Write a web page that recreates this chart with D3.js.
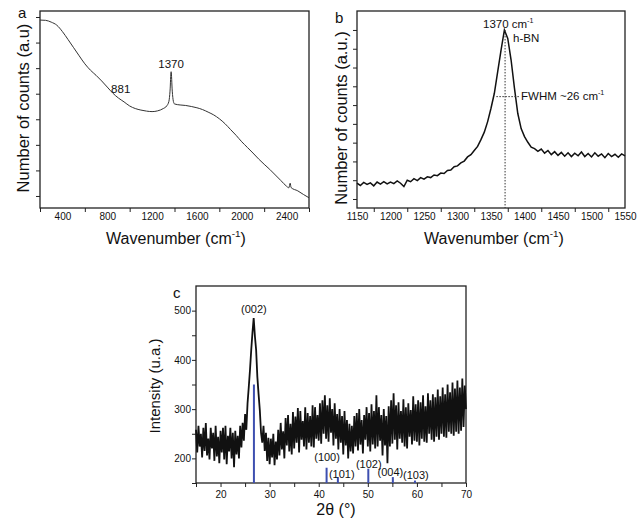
<!DOCTYPE html>
<html>
<head>
<meta charset="utf-8">
<title>h-BN Raman and XRD</title>
<script src="https://d3js.org/d3.v7.min.js"></script>
<style>
    body { margin: 0; background: #fff; }
    svg text { font-family: "Liberation Sans", Arial, sans-serif; fill: #111; }
</style>
</head>
<body>
<div id="chart"></div>
<script>
// panel a - wide raman scan
var aWave = [200,250,300,350,400,450,500,550,600,650,
             700,750,800,850,900,950,1000,1050,1100,1150,
             1200,1250,1300,1330,1350,1360,1370,1380,1390,1400,
             1450,1500,1550,1600,1650,1700,1750,1800,1850,1900,
             1950,2000,2050,2100,2150,2200,2250,2300,2350,2400,
             2420,2432,2440,2500,2550,2600];
var aCounts = [6.88,6.87,6.80,6.68,6.43,6.12,5.80,5.48,5.17,4.92,
               4.72,4.50,4.26,4.02,3.83,3.68,3.52,3.42,3.36,3.32,
               3.30,3.33,3.42,3.52,3.70,4.10,4.86,4.10,3.70,3.60,
               3.56,3.54,3.50,3.45,3.38,3.28,3.17,3.02,2.83,2.60,
               2.37,2.12,1.90,1.68,1.45,1.24,1.04,0.82,0.60,0.38,
               0.32,0.50,0.33,0.20,0.06,-0.07];
var aTickLabels = [400, 800, 1200, 1600, 2000, 2400];
var aTickMarks = [200, 600, 1000, 1400, 1800, 2200, 2600];
var aYTicks = [0, 1, 2, 3, 4, 5, 6, 7];

// panel b - zoom on the 1370 band, 5 cm-1 steps from 1150
var bStart = 1150, bStep = 5;
var bCounts = [0.84,0.72,0.88,0.78,0.86,0.70,0.90,0.79,0.92,0.80,   // 1150
               0.90,0.82,0.96,0.84,0.66,1.00,0.92,1.08,0.98,1.14,   // 1200
               1.06,1.18,1.14,1.28,1.24,1.38,1.36,1.52,1.54,1.72,   // 1250
               1.76,1.92,2.02,2.24,2.36,2.58,2.80,3.16,3.56,4.12,   // 1300
               4.83,5.63,6.78,7.93,9.00,8.55,7.40,5.90,4.55,3.75,   // 1350
               3.32,3.02,2.76,2.68,2.54,2.66,2.44,2.58,2.36,2.52,   // 1400
               2.32,2.48,2.28,2.46,2.26,2.44,2.30,2.50,2.26,2.42,   // 1450
               2.24,2.46,2.28,2.40,2.20,2.42,2.26,2.38,2.22,2.40,   // 1500
               2.30];                                               // 1550
var bTickLabels = [1150,1200,1250,1300,1350,1400,1450,1500,1550];
var bTickMarks = [1175,1225,1275,1325,1375,1425,1475,1525];
var bYTicks = [0,1,2,3,4,5,6,7,8,9];
var bPeak = 1371, bPeakTop = 9.0, bHalf = 5.45, bHalfFrom = 1358, bHalfTo = 1392;

// panel c - XRD, 0.25 deg steps from 15
var cStart = 15, cStep = 0.25;
var cIntensity = [
    258,212,266,224, 250,202,262,215, 272,206,240,198, 262,220,252,195,   // 15-18
    266,204,244,190, 256,212,262,198, 266,188,246,214, 262,200,252,182,   // 19-22
    256,208,246,200, 266,222,272,236, 290,258,312,345, 380,420,455,485,   // 23-26
    448,420,365,330, 298,252,232,266, 215,252,195,242, 188,240,202,250,   // 27-30
    186,234,198,258, 206,272,218,255, 200,282,226,288, 214,270,208,294,   // 31-34
    220,285,232,302, 212,296,238,276, 224,304,218,292, 232,286,224,308,   // 35-38
    222,304,240,288, 236,312,230,318, 250,328,240,308, 234,322,252,300,   // 39-42
    226,312,240,290, 218,300,232,286, 208,296,226,278, 200,270,214,266,   // 43-46
    210,286,224,292, 216,300,228,278, 210,288,238,304, 224,292,214,310,   // 47-50
    228,296,220,328, 224,304,236,288, 206,300,226,286, 190,306,224,318,   // 51-54
    230,332,238,308, 218,314,240,296, 232,320,224,304, 220,312,244,298,   // 55-58
    228,326,236,310, 234,318,226,314, 240,328,234,306, 232,332,250,318,   // 59-62
    238,330,234,324, 244,340,238,326, 250,344,244,330, 242,350,254,334,   // 63-66
    250,354,246,342, 254,358,250,344, 256,362,264,348, 300                // 67-70
];
var cStickPos = [26.8, 41.6, 43.9, 50.1, 55.1, 59.6];
var cStickInt = [350, 181, 162, 179, 162, 155];
var cStickLabels = ["(002)", "(100)", "(101)", "(102)", "(004)", "(103)"];
var cLabelX = [26.8, 41.7, 44.7, 50.2, 54.6, 59.8];
var cLabelY = [495, 195, 160, 180, 164, 158];
var cTickLabels = [20, 30, 40, 50, 60, 70];
var cTickMarks = [15,20,25,30,35,40,45,50,55,60,65,70];
var cYLabels = [200, 300, 400, 500];
var cYTicks = [150,200,250,300,350,400,450,500];

var svg = d3.select("#chart").append("svg")
    .attr("width", 638)
    .attr("height", 525);

var xa = d3.scaleLinear().domain([200, 2600]).range([40, 309]);
var ya = d3.scaleLinear().domain([-0.47, 7.235]).range([208, 11]);
var xb = d3.scaleLinear().domain([1150, 1550]).range([357, 625]);
var yb = d3.scaleLinear().domain([-0.48, 10.01]).range([208, 11]);
var xc = d3.scaleLinear().domain([15, 70]).range([196, 466]);
var yc = d3.scaleLinear().domain([150, 550]).range([483, 286]);

function axes(x, y, xMarks, xLabels, yMarks, yLabels, fs, xPad) {
    var bottom = y.range()[0], top = y.range()[1];
    var left = x.range()[0], right = x.range()[1];

    svg.append("g")
        .attr("transform", "translate(0," + bottom + ")")
        .attr("color", "#222")
        .call(d3.axisBottom(x).tickValues(xMarks).tickSize(4).tickFormat(""))
        .call(function(g) { g.select(".domain").remove(); });

    svg.append("g")
        .attr("transform", "translate(0," + bottom + ")")
        .attr("font-size", fs)
        .attr("font-family", null)
        .call(d3.axisBottom(x).tickValues(xLabels).tickSize(0).tickPadding(xPad).tickFormat(d3.format("d")))
        .call(function(g) { g.select(".domain").remove(); });

    svg.append("g")
        .attr("transform", "translate(" + left + ",0)")
        .attr("color", "#222")
        .call(d3.axisLeft(y).tickValues(yMarks).tickSize(4).tickFormat(""))
        .call(function(g) { g.select(".domain").remove(); });

    if (yLabels) {
        svg.append("g")
            .attr("transform", "translate(" + left + ",0)")
            .attr("font-size", fs)
            .attr("font-family", null)
            .call(d3.axisLeft(y).tickValues(yLabels).tickSize(0).tickPadding(5).tickFormat(d3.format("d")))
            .call(function(g) { g.select(".domain").remove(); });
    }

    svg.append("rect")
        .attr("x", left).attr("y", top)
        .attr("width", right - left).attr("height", bottom - top)
        .attr("fill", "none")
        .attr("stroke", "#222")
        .attr("stroke-width", 1.3);
}

// text with a superscript part, e.g. cm-1
function supText(t, base, sup, tail) {
    t.append("tspan").text(base);
    t.append("tspan").attr("font-size", "0.62em").attr("dy", "-0.7em").text(sup);
    if (tail) t.append("tspan").attr("dy", "0.43em").text(tail);
}

function yTitle(x, y, fs, txt) {
    svg.append("text")
        .attr("transform", "translate(" + x + "," + y + ") rotate(-90)")
        .attr("text-anchor", "middle")
        .attr("font-size", fs)
        .text(txt);
}

// ---------- panel a
axes(xa, ya, aTickMarks, aTickLabels, aYTicks, null, 11.5, 5);

var lineA = d3.line()
    .x(function(d, i) { return xa(aWave[i]); })
    .y(function(d) { return ya(d); })
    .curve(d3.curveMonotoneX);

svg.append("path")
    .attr("d", lineA(aCounts))
    .attr("fill", "none")
    .attr("stroke", "#333")
    .attr("stroke-width", 1);

svg.append("text").attr("x", xa(920)).attr("y", ya(3.85) - 5)
    .attr("text-anchor", "middle").attr("font-size", 11.5).text("881");
svg.append("text").attr("x", xa(1370)).attr("y", ya(4.86) - 4)
    .attr("text-anchor", "middle").attr("font-size", 11.5).text("1370");

svg.append("text").attr("x", 18).attr("y", 18).attr("font-size", 15).text("a");
yTitle(29, 108, 16.5, "Number of counts (a.u)");
supText(svg.append("text").attr("x", 176).attr("y", 244)
    .attr("text-anchor", "middle").attr("font-size", 16), "Wavenumber (cm", "-1", ")");

// ---------- panel b
axes(xb, yb, bTickMarks, bTickLabels, bYTicks, null, 11.5, 5);

var lineB = d3.line()
    .x(function(d, i) { return xb(bStart + i * bStep); })
    .y(function(d) { return yb(d); });

svg.append("path")
    .attr("d", lineB(bCounts))
    .attr("fill", "none")
    .attr("stroke", "#111")
    .attr("stroke-width", 1.5);

svg.append("line")
    .attr("x1", xb(bPeak)).attr("x2", xb(bPeak))
    .attr("y1", yb(bPeakTop)).attr("y2", yb.range()[0])
    .attr("stroke", "#333").attr("stroke-width", 1)
    .attr("stroke-dasharray", "1.5,1.5");
svg.append("line")
    .attr("x1", xb(bHalfFrom)).attr("x2", xb(bHalfTo))
    .attr("y1", yb(bHalf)).attr("y2", yb(bHalf))
    .attr("stroke", "#333").attr("stroke-width", 1)
    .attr("stroke-dasharray", "1.5,1.5");

supText(svg.append("text").attr("x", 483).attr("y", 28).attr("font-size", 11.5), "1370 cm", "-1");
svg.append("text").attr("x", 513).attr("y", 42).attr("font-size", 11.5).text("h-BN");
supText(svg.append("text").attr("x", 521).attr("y", 100).attr("font-size", 11.5), "FWHM ~26 cm", "-1");

svg.append("text").attr("x", 335).attr("y", 23).attr("font-size", 15).text("b");
yTitle(347, 118, 16.5, "Number of counts (a.u.)");
supText(svg.append("text").attr("x", 494).attr("y", 244)
    .attr("text-anchor", "middle").attr("font-size", 16), "Wavenumber (cm", "-1", ")");

// ---------- panel c
axes(xc, yc, cTickMarks, cTickLabels, cYTicks, cYLabels, 12, 8);

var lineC = d3.line()
    .x(function(d, i) { return xc(cStart + i * cStep); })
    .y(function(d) { return yc(d); });

svg.append("path")
    .attr("d", lineC(cIntensity))
    .attr("fill", "none")
    .attr("stroke", "#111")
    .attr("stroke-width", 1.8)
    .attr("stroke-linejoin", "bevel");

svg.selectAll("line.stick")
    .data(cStickPos).enter()
    .append("line")
    .attr("class", "stick")
    .attr("x1", function(d) { return xc(d); })
    .attr("x2", function(d) { return xc(d); })
    .attr("y1", yc(150))
    .attr("y2", function(d, i) { return yc(cStickInt[i]); })
    .attr("stroke", "#3d4fb0")
    .attr("stroke-width", 2);

svg.selectAll("text.hkl")
    .data(cStickLabels).enter()
    .append("text")
    .attr("class", "hkl")
    .attr("x", function(d, i) { return xc(cLabelX[i]); })
    .attr("y", function(d, i) { return yc(cLabelY[i]); })
    .attr("text-anchor", "middle")
    .attr("font-size", 11)
    .text(function(d) { return d; });

svg.append("text").attr("x", 173).attr("y", 298).attr("font-size", 15).text("c");
yTitle(160, 386, 15, "Intensity (u.a.)");
svg.append("text").attr("x", 336).attr("y", 515)
    .attr("text-anchor", "middle").attr("font-size", 16).text("2\u03b8 (\u00b0)");
</script>
</body>
</html>
